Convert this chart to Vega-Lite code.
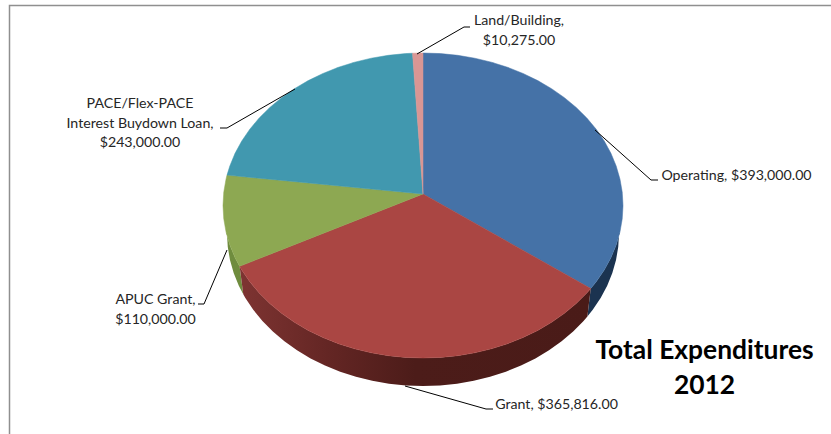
{
"$schema":"https://vega.github.io/schema/vega-lite/v6.json",
"width":831,"height":434,"padding":0,"autosize":"none","background":"white",
"config":{"view":{"stroke":null}},
"projection":{"type":"identity","reflectY":true,"scale":2,"translate":[423,194]},
"layer":[
{"data":{"values":[{"type":"Feature","properties":{"part":"frame"},"geometry":{"type":"LineString","coordinates":[[-206.75,-125],[-206.75,94.25],[210,94.25]]}}]},
 "mark":{"type":"geoshape","filled":false,"stroke":"#8f8f8f","strokeWidth":1.5}},
{"data":{"values":[{"type":"Feature","properties":{"category":"APUC Grant"},"geometry":{"type":"Polygon","coordinates":[[[-91.7,-36.15],[-93.97,-31.83],[-96.59,-25.49],[-98.48,-18.99],[-98,-19.75],[-97.63,-26.4],[-96.51,-32.99],[-94.66,-39.49],[-92.09,-45.83],[-89.87,-50.15],[-91.7,-36.15]]]}}]},
 "mark":{"type":"geoshape","fill":"#6f8c3e","stroke":null}},
{"data":{"values":[{"type":"Feature","properties":{"category":"Operating"},"geometry":{"type":"Polygon","coordinates":[[[98.48,-18.99],[96.59,-25.49],[93.97,-31.83],[90.63,-37.97],[86.6,-43.88],[83.87,-47.28],[82.19,-61.28],[84.87,-57.88],[88.82,-51.97],[92.09,-45.83],[94.66,-39.49],[96.51,-32.99],[97.63,-26.4],[98,-19.75],[98.48,-18.99]]]}}]},
 "mark":{"type":"geoshape","fill":"#1b3350","stroke":null}},
{"data":{"values":[{"type":"Feature","properties":{"category":"Grant"},"geometry":{"type":"Polygon","coordinates":[[[83.87,-47.28],[81.92,-49.49],[76.6,-54.76],[70.71,-59.67],[64.28,-64.16],[57.36,-68.21],[50,-71.78],[42.26,-74.86],[34.2,-77.4],[25.88,-79.4],[17.36,-80.84],[8.72,-81.71],[0,-82],[-8.72,-81.71],[-17.36,-80.84],[-25.88,-79.4],[-34.2,-77.4],[-42.26,-74.86],[-50,-71.78],[-57.36,-68.21],[-64.28,-64.16],[-70.71,-59.67],[-76.6,-54.76],[-81.92,-49.49],[-86.6,-43.88],[-90.63,-37.97],[-91.7,-36.15],[-89.87,-50.15],[-88.82,-51.97],[-84.87,-57.88],[-80.28,-63.49],[-75.07,-68.76],[-69.3,-73.67],[-62.99,-78.16],[-56.21,-82.21],[-49,-85.78],[-41.41,-88.86],[-33.52,-91.4],[-25.36,-93.4],[-17.01,-94.84],[-8.55,-95.71],[0,-96],[8.55,-95.71],[17.01,-94.84],[25.36,-93.4],[33.52,-91.4],[41.41,-88.86],[49,-85.78],[56.21,-82.21],[62.99,-78.16],[69.3,-73.67],[75.07,-68.76],[80.28,-63.49],[82.19,-61.28],[83.87,-47.28]]]}}]},
 "mark":{"type":"geoshape","stroke":null,"fill":{"gradient":"linear","x1":0,"y1":0,"x2":1,"y2":0,"stops":[{"offset":0,"color":"#7e3432"},{"offset":0.25,"color":"#642624"},{"offset":0.5,"color":"#4c1c19"},{"offset":1,"color":"#4a1b18"}]}}},
{"data":{"values":[
{"type":"Feature","properties":{"category":"Operating","value":393000},"geometry":{"type":"Polygon","coordinates":[[[0,0],[0,70.5],[8.72,70.21],[17.36,69.34],[25.88,67.9],[34.2,65.9],[42.26,63.36],[50,60.28],[57.36,56.71],[64.28,52.66],[70.71,48.17],[76.6,43.26],[81.92,37.99],[86.6,32.38],[90.63,26.47],[93.97,20.33],[96.59,13.99],[98.48,7.49],[99.62,0.9],[100,-5.75],[99.62,-12.4],[98.48,-18.99],[96.59,-25.49],[93.97,-31.83],[90.63,-37.97],[86.6,-43.88],[83.87,-47.28],[0,0]]]}},
{"type":"Feature","properties":{"category":"Grant","value":365816},"geometry":{"type":"Polygon","coordinates":[[[0,0],[83.87,-47.28],[81.92,-49.49],[76.6,-54.76],[70.71,-59.67],[64.28,-64.16],[57.36,-68.21],[50,-71.78],[42.26,-74.86],[34.2,-77.4],[25.88,-79.4],[17.36,-80.84],[8.72,-81.71],[0,-82],[-8.72,-81.71],[-17.36,-80.84],[-25.88,-79.4],[-34.2,-77.4],[-42.26,-74.86],[-50,-71.78],[-57.36,-68.21],[-64.28,-64.16],[-70.71,-59.67],[-76.6,-54.76],[-81.92,-49.49],[-86.6,-43.88],[-90.63,-37.97],[-91.7,-36.15],[0,0]]]}},
{"type":"Feature","properties":{"category":"APUC Grant","value":110000},"geometry":{"type":"Polygon","coordinates":[[[0,0],[-91.7,-36.15],[-93.97,-31.83],[-96.59,-25.49],[-98.48,-18.99],[-99.62,-12.4],[-100,-5.75],[-99.62,0.9],[-98.48,7.49],[-97.99,9.45],[0,0]]]}},
{"type":"Feature","properties":{"category":"PACE/Flex-PACE Interest Buydown Loan","value":243000},"geometry":{"type":"Polygon","coordinates":[[[0,0],[-97.99,9.45],[-96.59,13.99],[-93.97,20.33],[-90.63,26.47],[-86.6,32.38],[-81.92,37.99],[-76.6,43.26],[-70.71,48.17],[-64.28,52.66],[-57.36,56.71],[-50,60.28],[-42.26,63.36],[-34.2,65.9],[-25.88,67.9],[-17.36,69.34],[-8.72,70.21],[-5.23,70.39],[0,0]]]}},
{"type":"Feature","properties":{"category":"Land/Building","value":10275},"geometry":{"type":"Polygon","coordinates":[[[0,0],[-5.23,70.39],[0,70.5],[0,0]]]}}
]},
 "mark":{"type":"geoshape","strokeWidth":0.5},
 "encoding":{
  "color":{"field":"properties.category","type":"nominal","legend":null,"scale":{"domain":["Operating","Grant","APUC Grant","PACE/Flex-PACE Interest Buydown Loan","Land/Building"],"range":["#4572a7","#aa4643","#8da852","#4198af","#d99694"]}},
  "stroke":{"field":"properties.category","type":"nominal","legend":null,"scale":{"domain":["Operating","Grant","APUC Grant","PACE/Flex-PACE Interest Buydown Loan","Land/Building"],"range":["#4572a7","#aa4643","#8da852","#4198af","#d99694"]}}
 }},
{"data":{"values":[
{"type":"Feature","properties":{"category":"PACE"},"geometry":{"type":"LineString","coordinates":[[-64,52.5],[-98,33],[-101.5,33]]}},
{"type":"Feature","properties":{"category":"Land"},"geometry":{"type":"LineString","coordinates":[[-3,70],[20.5,83.5],[23.5,83.5]]}},
{"type":"Feature","properties":{"category":"Operating"},"geometry":{"type":"LineString","coordinates":[[86,32],[114,7],[117.5,7]]}},
{"type":"Feature","properties":{"category":"Grant"},"geometry":{"type":"LineString","coordinates":[[-9,-96],[31.5,-107.5],[35,-107.5]]}},
{"type":"Feature","properties":{"category":"APUC"},"geometry":{"type":"LineString","coordinates":[[-98,-28],[-109.5,-55],[-112.5,-55]]}}
]},
 "mark":{"type":"geoshape","filled":false,"stroke":"#000000","strokeWidth":1}},
{"data":{"values":[
{"label":"PACE/Flex-PACE\nInterest Buydown Loan,\n$243,000.00","lon":-141.5,"lat":45},
{"label":"Land/Building,\n$10,275.00","lon":48,"lat":86.5},
{"label":"Operating, $393,000.00","lon":156.75,"lat":9},
{"label":"Grant, $365,816.00","lon":66.75,"lat":-105.5},
{"label":"APUC Grant,\n$110,000.00","lon":-133.75,"lat":-53}
]},
 "mark":{"type":"text","font":"Lato","fontSize":14.2,"color":"#262626","align":"center","baseline":"middle","lineBreak":"\n","lineHeight":19.5},
 "encoding":{"longitude":{"field":"lon","type":"quantitative"},"latitude":{"field":"lat","type":"quantitative"},"text":{"field":"label","type":"nominal"}}},
{"data":{"values":[{"label":"Total Expenditures\n2012","lon":140.75,"lat":-78.5}]},
 "mark":{"type":"text","font":"Lato","fontSize":26.4,"fontWeight":"bold","color":"#000000","align":"center","baseline":"middle","lineBreak":"\n","lineHeight":35},
 "encoding":{"longitude":{"field":"lon","type":"quantitative"},"latitude":{"field":"lat","type":"quantitative"},"text":{"field":"label","type":"nominal"}}}
]
}
